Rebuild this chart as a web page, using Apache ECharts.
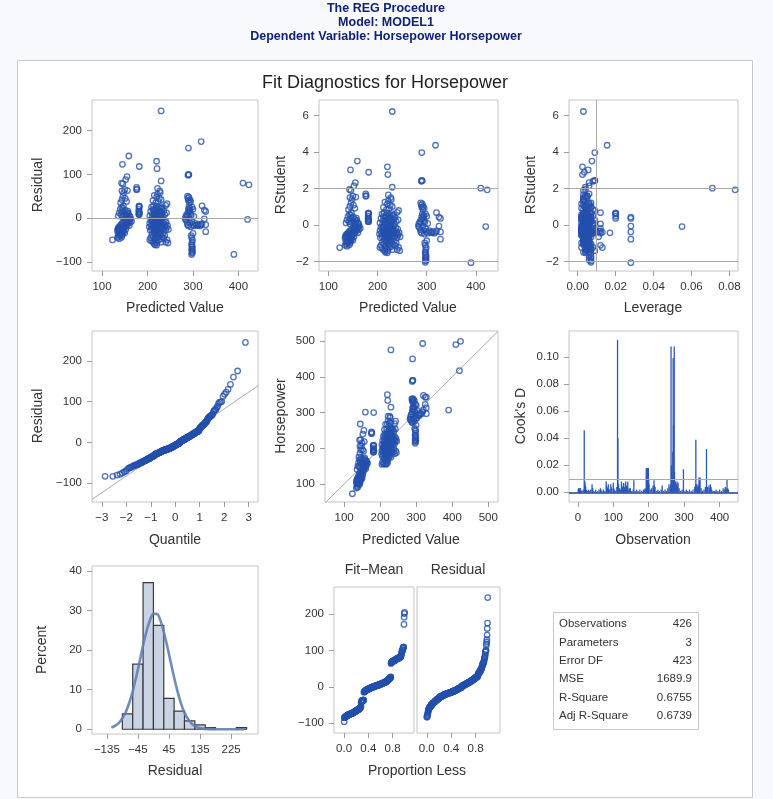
<!DOCTYPE html>
<html><head><meta charset="utf-8">
<script src="https://cdn.jsdelivr.net/npm/echarts@6/dist/echarts.min.js"></script>
<style>html,body{margin:0;padding:0;background:#f8f9fd;}#c{width:773px;height:799px;}</style>
</head><body><div id="c"></div>
<script>
// ---------------- DATA ----------------
// Group A: predicted ~120-165
const predA = [123,134,136,138,140,141,143,137,139,142,145,147,135,144,146,150,
 134,135,136,137,138,139,140,141,142,143,144,145,146,147,148,149,150,151,152,153,154,155,156,157,158,159,160,161,162,163,165,148,152,
 136,138,140,142,143,144,145,146,147,148,150,151,153,154,155,156,158,160,162,157,
 141,144,146,148,151,154,
 143,146,150,152,156,144,
 155,145,159];
const residA = [-50,-45,-42,-47,-40,-35,-44,-38,-33,-31,-36,-32,-34,-40,-31,-34,
 -28,-25,-22,-27,-20,-24,-18,-26,-15,-21,-12,-25,-19,-10,-22,-16,-8,-20,-12,-5,-18,-9,-14,-3,-11,-6,-17,-4,-10,-2,-7,-28,-26,
 5,12,20,8,25,3,15,22,28,6,10,18,2,13,4,8,11,5,3,16,
 35,42,50,58,45,38,
 80,78,65,88,63,62,
 95,123,142];
const levA = [0.013,0.012,0.007,0.006,0.005,0.004,0.006,0.005,0.004,0.003,0.005,0.004,0.006,0.003,0.005,0.004,
 0.006,0.005,0.004,0.007,0.003,0.005,0.004,0.006,0.003,0.005,0.004,0.003,0.006,0.005,0.004,0.003,0.005,0.004,0.006,0.003,0.005,0.004,0.007,0.003,0.005,0.004,0.006,0.003,0.008,0.004,0.012,0.005,0.004,
 0.005,0.004,0.006,0.003,0.005,0.004,0.006,0.003,0.005,0.004,0.007,0.003,0.005,0.004,0.006,0.003,0.005,0.004,0.012,0.005,
 0.005,0.004,0.006,0.003,0.005,0.004,
 0.004,0.003,0.005,0.006,0.004,0.005,
 0.006,0.0055,0.0075];
// Group S: predicted ~175-182
const predS = [182,176,176,177,181,182,182,181,182,181,182,181,182,181];
const residS = [118,70,65,66,15,8,27,10,12,20,25,8,15,27];
const levS = [0.0035,0.006,0.004,0.005,0.02,0.006,0.02,0.005,0.007,0.02,0.02,0.005,0.006,0.02];
// Group B: predicted ~204-246
const predB = [220,216,
 205,207,209,210,212,213,214,215,216,217,218,219,221,222,223,224,225,226,228,229,230,232,234,236,238,240,243,245,
 204,205,206,207,208,209,210,211,212,213,214,215,216,217,218,219,220,221,222,223,224,225,226,227,228,229,230,231,232,233,234,235,236,237,238,239,240,241,242,244,246,
 211,215,218,220,222,224,226,228,230,217,219,221,223,225,227,
 205,207,209,210,211,212,213,214,215,216,217,218,219,220,221,222,223,224,225,226,227,228,229,230,231,232,234,236,238,240,242,233,
 212,215,218,220,222,224,226,228,230,243,
 222,230,227,221,220,230];
const residB = [-62,-61,
 -50,-45,-52,-38,-55,-42,-33,-58,-47,-36,-53,-40,-57,-44,-35,-50,-41,-32,-48,-38,-55,-43,-36,-46,-40,-55,-50,-57,
 -20,-12,-28,-5,-18,-25,-8,-15,-22,-3,-27,-10,-17,-24,-6,-13,-29,-2,-19,-9,-26,-14,-4,-21,-11,-28,-7,-16,-23,-1,-18,-12,-25,-6,-20,-15,-28,-9,-22,-17,-26,
 -4,-21,-27,-11,-16,-7,-23,-3,-19,-9,-20,-25,-14,-5,-18,
 5,15,25,2,10,20,28,8,18,3,12,22,6,27,14,4,19,9,24,1,16,11,26,7,21,13,3,17,8,29,12,23,
 40,52,35,48,55,38,45,58,42,33,
 68,85,62,113,130,245];
const levB = [0.004,0.003,
 0.005,0.004,0.006,0.003,0.004,0.005,0.003,0.004,0.006,0.003,0.004,0.002,0.005,0.003,0.004,0.002,0.003,0.005,0.004,0.003,0.005,0.004,0.003,0.006,0.005,0.007,0.008,0.009,
 0.006,0.005,0.004,0.005,0.003,0.004,0.003,0.004,0.002,0.003,0.003,0.002,0.004,0.003,0.002,0.003,0.004,0.002,0.003,0.002,0.003,0.002,0.004,0.003,0.002,0.003,0.004,0.003,0.002,0.004,0.003,0.005,0.004,0.003,0.006,0.004,0.005,0.007,0.006,0.008,0.011,
 0.003,0.002,0.004,0.003,0.002,0.003,0.004,0.002,0.003,0.002,0.003,0.004,0.002,0.003,0.002,
 0.006,0.005,0.004,0.005,0.004,0.003,0.004,0.003,0.002,0.003,0.002,0.003,0.002,0.003,0.002,0.003,0.002,0.003,0.002,0.003,0.002,0.003,0.003,0.004,0.003,0.004,0.004,0.005,0.006,0.007,0.009,0.004,
 0.004,0.003,0.003,0.002,0.003,0.002,0.003,0.003,0.004,0.009,
 0.003,0.004,0.003,0.0025,0.0025,0.003];
// Group C: predicted ~283-330
const predC = [297,298,298,299,297,298,299,298,297,
 296,328,298,299,297,300,
 283,285,287,288,290,292,294,295,298,300,302,305,308,310,312,315,318,320,325,328,
 284,286,288,289,290,291,292,293,294,295,296,298,300,302,320,325,328,
 288,289,290,291,292,293,295,
 290,291,289,290,318];
const residC = [-60,-63,-66,-70,-72,-75,-78,-80,-83,
 -40,-31,-55,-50,-45,-35,
 -2,-5,-10,-15,-18,-3,-12,-20,-8,-15,-18,-12,-16,-17,-14,-18,-16,-13,-2,-15,
 3,8,5,12,20,25,15,18,22,10,6,25,20,4,28,18,15,
 50,45,40,48,35,42,38,
 100,99,98,160,175];
const levC = [0.006,0.007,0.006,0.007,0.006,0.007,0.006,0.007,0.007,
 0.006,0.028,0.007,0.006,0.007,0.006,
 0.008,0.007,0.006,0.007,0.006,0.005,0.006,0.007,0.006,0.007,0.008,0.009,0.01,0.017,0.011,0.012,0.013,0.012,0.028,0.028,
 0.008,0.007,0.006,0.007,0.006,0.005,0.006,0.007,0.006,0.005,0.006,0.007,0.008,0.009,0.012,0.028,0.028,
 0.007,0.006,0.007,0.006,0.008,0.007,0.006,
 0.009,0.009,0.008,0.009,0.0155];
// Far high-predicted points
const predF = [390,410,420,423];
const residF = [-83,80,-3,76];
const levF = [0.028,0.071,0.055,0.083];

// Cook's D needles (observation, value)
const cookObs = [1,2,3,4,5,6,7,8,9,12,15,18,19,20,21,22,24,27,30,33,36,40,41,42,45,50,55,60,64,65,68,72,76,80,81,82,84,86,88,90,93,94,96,100,101,103,106,110,112,113,115,118,121,123,124,126,128,129,131,132,134,135,137,138,140,141,144,146,148,152,156,158,162,166,170,175,180,185,188,190,193,194,195,196,197,198,199,200,201,204,208,212,214,215,216,218,222,226,230,235,238,242,246,250,254,257,260,262,263,264,266,268,269,270,272,273,275,277,278,280,281,283,286,290,294,298,302,306,310,315,320,325,330,332,333,334,336,338,339,340,342,343,345,348,352,356,360,363,366,370,372,374,376,378,382,386,390,395,400,405,410,413,416,418,419,421,423,425];
const cookD = [0.002,0.003,0.003,0.002,0.002,0.003,0.003,0.002,0.001,0.001,0.002,0.046,0.006,0.008,0.005,0.004,0.002,0.001,0.002,0.001,0.002,0.006,0.003,0.003,0.001,0.002,0.001,0.002,0.003,0.002,0.001,0.002,0.001,0.008,0.005,0.004,0.003,0.006,0.002,0.002,0.006,0.004,0.003,0.007,0.003,0.002,0.001,0.004,0.113,0.040,0.006,0.003,0.002,0.008,0.004,0.004,0.005,0.007,0.004,0.003,0.006,0.008,0.004,0.005,0.003,0.008,0.002,0.003,0.003,0.001,0.002,0.009,0.001,0.002,0.001,0.002,0.001,0.002,0.002,0.003,0.018,0.012,0.018,0.014,0.018,0.015,0.018,0.01,0.006,0.002,0.003,0.005,0.004,0.009,0.005,0.004,0.001,0.002,0.001,0.002,0.005,0.001,0.002,0.001,0.003,0.006,0.004,0.006,0.108,0.02,0.012,0.03,0.0995,0.05,0.108,0.015,0.008,0.005,0.006,0.008,0.004,0.007,0.003,0.001,0.002,0.017,0.001,0.002,0.001,0.002,0.001,0.002,0.004,0.005,0.039,0.006,0.006,0.004,0.004,0.005,0.011,0.008,0.011,0.003,0.001,0.002,0.004,0.032,0.004,0.005,0.003,0.006,0.004,0.002,0.001,0.001,0.002,0.001,0.002,0.001,0.003,0.002,0.004,0.002,0.003,0.0096,0.003,0.002];

// Histogram of residuals (bin start, percent), bin width 30
const histBinStart = [-90,-60,-30,0,30,60,90,120,150,240];
const histPercent = [3.9,16.5,37.1,26.3,7.8,4.6,2.1,1.1,0.4,0.4];
const histBinWidth = 30;
// Normal density curve
const normalX = [-122,-110,-100,-90,-80,-70,-60,-50,-40,-30,-20,-10,0,10,20,30,40,50,60,70,80,90,100,110,120,135,150,180,220,262];
const normalY = [0.4,0.9,1.6,2.8,4.4,6.7,9.6,13.2,17.1,21.2,24.8,27.6,29.2,29.2,27.6,24.6,21.0,17.0,13.1,9.5,6.5,4.2,2.6,1.5,0.8,0.3,0.1,0.0,0.0,0.0];

// Reference-line values
const qqLineX = [-3.4,3.4];
const qqLineY = [-139.7,139.7];
const diagLine = [47,528];
const leverageCutoff = 0.0141;
const cookCutoff = 0.0094;

// Fit statistics table
const statNames = ['Observations','Parameters','Error DF','MSE','R-Square','Adj R-Square'];
const statValues = ['426','3','423','1689.9','0.6755','0.6739'];
const nObs = 426, nParm = 3, mse = 1689.9;

// Tick labels
const ticksP1x = [100,200,300,400], ticksP1y = [-100,0,100,200];
const ticksRS = [-2,0,2,4,6];
const ticksLev = [0,0.02,0.04,0.06,0.08];
const ticksQ = [-3,-2,-1,0,1,2,3];
const ticksHP = [100,200,300,400,500];
const ticksObs = [0,100,200,300,400];
const ticksCook = [0,0.02,0.04,0.06,0.08,0.10];
const ticksHistX = [-135,-45,45,135,225];
const ticksPct = [0,10,20,30,40];
const ticksProp = [0,0.4,0.8];

// ---------------- DERIVED ----------------
const predicted = [...predA,...predS,...predB,...predC,...predF];
const residual = [...residA,...residS,...residB,...residC,...residF];
const leverage = [...levA,...levS,...levB,...levC,...levF];
const s = Math.sqrt(mse);
const rstudent = residual.map((e,i)=>{const r=e/(s*Math.sqrt(1-leverage[i]));return r*Math.sqrt((nObs-nParm-1)/(nObs-nParm-r*r));});
const horsepower = predicted.map((p,i)=>p+residual[i]);
function invNorm(p){
 const a=[-39.69683028665376,220.9460984245205,-275.9285104469687,138.357751867269,-30.66479806614716,2.506628277459239];
 const b=[-54.47609879822406,161.5858368580409,-155.6989798598866,66.80131188771972,-13.28068155288572];
 const c=[-0.007784894002430293,-0.3223964580411365,-2.400758277161838,-2.549732539343734,4.374664141464968,2.938163982698783];
 const d=[0.007784695709041462,0.3224671290700398,2.445134137142996,3.754408661907416];
 const pl=0.02425;let q,r;
 if(p<pl){q=Math.sqrt(-2*Math.log(p));return (((((c[0]*q+c[1])*q+c[2])*q+c[3])*q+c[4])*q+c[5])/((((d[0]*q+d[1])*q+d[2])*q+d[3])*q+1);}
 if(p>1-pl){q=Math.sqrt(-2*Math.log(1-p));return -(((((c[0]*q+c[1])*q+c[2])*q+c[3])*q+c[4])*q+c[5])/((((d[0]*q+d[1])*q+d[2])*q+d[3])*q+1);}
 q=p-0.5;r=q*q;return (((((a[0]*r+a[1])*r+a[2])*r+a[3])*r+a[4])*r+a[5])*q/(((((b[0]*r+b[1])*r+b[2])*r+b[3])*r+b[4])*r+1);
}
const N = residual.length;
const sortedRes = residual.slice().sort((x,y)=>x-y);
const qqData = sortedRes.map((v,i)=>[invNorm((i+1-0.375)/(N+0.25)),v]);
const meanHP = horsepower.reduce((a,b)=>a+b,0)/N;
const sortedFit = predicted.map(p=>p-meanHP).sort((x,y)=>x-y);
const fitSpread = sortedFit.map((v,i)=>[(i+0.5)/N,v]);
const resSpread = sortedRes.map((v,i)=>[(i+0.5)/N,v]);

// ---------------- CHART ----------------
const FONT = '"Liberation Sans", Arial, sans-serif';
const BLUE = '#2450ad';
const GRAYLINE = '#a9a9a9';
const FRAME = '#c4c4c4';
const minus = t => String(t).replace('-', '\u2212');
const fmt0 = v => minus(v);
const fmt2 = v => minus(v.toFixed(2));
const fmt1 = v => minus(v.toFixed(1));

const grids = [
 {left:92, top:100, width:166, height:171},
 {left:319, top:100, width:179, height:171},
 {left:569, top:100, width:169, height:171},
 {left:92, top:331, width:166, height:171},
 {left:325, top:331, width:173, height:171},
 {left:569, top:331, width:169, height:171},
 {left:92, top:566, width:166, height:168},
 {left:334, top:587, width:80, height:146},
 {left:417, top:587, width:83, height:146}
].map(g=>Object.assign({show:true, borderColor:FRAME, borderWidth:1, backgroundColor:'transparent'}, g));

function ax(gi, min, max, ticks, fmt, showLabels){
 return {type:'value', gridIndex:gi, min:min, max:max,
  axisLine:{show:false, onZero:false}, splitLine:{show:false},
  axisTick:{show:showLabels!==false, length:5, lineStyle:{color:'#9c9c9c'}, customValues:ticks},
  axisLabel:{show:showLabels!==false, customValues:ticks, formatter:fmt, fontSize:11.5, color:'#333', margin:10, fontFamily:FONT}};
}
const xAxes = [
 ax(0,78,443,ticksP1x,fmt0),
 ax(1,81,445,ticksP1x,fmt0),
 ax(2,-0.0046,0.0845,ticksLev,fmt2),
 ax(3,-3.4,3.38,ticksQ,fmt0),
 ax(4,47,527,ticksHP,fmt0),
 ax(5,-25,452,ticksObs,fmt0),
 ax(6,-178,303,ticksHistX,fmt0),
 ax(7,-0.166,1.154,ticksProp,fmt1),
 ax(8,-0.16,1.2,ticksProp,fmt1)
];
const yAxes = [
 ax(0,-121,270,ticksP1y,fmt0),
 ax(1,-2.51,6.86,ticksRS,fmt0),
 ax(2,-2.51,6.86,ticksRS,fmt0),
 ax(3,-146,273,ticksP1y,fmt0),
 ax(4,50,528,ticksHP,fmt0),
 ax(5,-0.0072,0.1195,ticksCook,fmt2),
 ax(6,-1.2,41.3,ticksPct,fmt0),
 ax(7,-127,274,ticksP1y,fmt0),
 ax(8,-127,274,ticksP1y,fmt0,false)
];
const markerStyle = {color:'rgba(0,0,0,0)', borderColor:BLUE, borderWidth:1.3};
function scatter(i, data){
 return {type:'scatter', xAxisIndex:i, yAxisIndex:i, data:data, symbol:'circle', symbolSize:5.5, itemStyle:markerStyle, silent:true, z:3};
}
function refLines(list, color, width){
 return {silent:true, symbol:'none', animation:false, label:{show:false}, lineStyle:{color:color||GRAYLINE, type:'solid', width:width||1}, data:list};
}
const s0 = scatter(0, predicted.map((p,i)=>[p,residual[i]])); s0.markLine = refLines([{yAxis:0}]);
const s1 = scatter(1, predicted.map((p,i)=>[p,rstudent[i]])); s1.markLine = refLines([{yAxis:-2},{yAxis:2}]);
const s2 = scatter(2, leverage.map((h,i)=>[h,rstudent[i]])); s2.markLine = refLines([{yAxis:-2},{yAxis:2},{xAxis:leverageCutoff}]);
const s3 = {type:'line', xAxisIndex:3, yAxisIndex:3, data:qqLineX.map((x,i)=>[x,qqLineY[i]]), symbol:'none', lineStyle:{color:GRAYLINE,width:1}, silent:true, z:2};
const s4 = scatter(3, qqData);
const s5 = {type:'line', xAxisIndex:4, yAxisIndex:4, data:diagLine.map(v=>[v,v]), symbol:'none', lineStyle:{color:GRAYLINE,width:1}, silent:true, z:2};
const s6 = scatter(4, predicted.map((p,i)=>[p,horsepower[i]]));
const s7 = {type:'custom', xAxisIndex:5, yAxisIndex:5, data:cookObs.map((o,i)=>[o,cookD[i]]), silent:true,
 renderItem:(params, api)=>{const p0=api.coord([api.value(0),0]);const p1=api.coord([api.value(0),api.value(1)]);
  return {type:'line', shape:{x1:p0[0],y1:p0[1],x2:p1[0],y2:p1[1]}, style:{stroke:'#2c58b8', lineWidth:1.3}};},
 markLine: refLines([{yAxis:cookCutoff}]), z:3};
const s7b = {type:'line', xAxisIndex:5, yAxisIndex:5, data:[], markLine: refLines([{yAxis:0}], '#1c3f9a', 1.6), z:4};
const s8 = {type:'custom', xAxisIndex:6, yAxisIndex:6, data:histBinStart.map((b,i)=>[b,histPercent[i]]), silent:true,
 renderItem:(params, api)=>{const a=api.coord([api.value(0),api.value(1)]);const b=api.coord([api.value(0)+histBinWidth,0]);
  return {type:'rect', shape:{x:a[0],y:a[1],width:b[0]-a[0],height:b[1]-a[1]}, style:{fill:'#c9d3e4', stroke:'#3a3a3a', lineWidth:1.2}};}, z:2};
const s9 = {type:'line', xAxisIndex:6, yAxisIndex:6, data:normalX.map((x,i)=>[x,normalY[i]]), symbol:'none', smooth:0.3,
 lineStyle:{color:'#5f7fb4', width:2.6, opacity:0.9}, silent:true, z:3};
const s10 = scatter(7, fitSpread);
const s11 = scatter(8, resSpread);

function txt(x,y,text,opts){
 return Object.assign({type:'text', x:x, y:y, silent:true, style:Object.assign({text:text, fill:'#333', fontSize:14, fontFamily:FONT, align:'center', verticalAlign:'middle'}, opts||{})});
}
function vtxt(x,y,text){ const t = txt(x,y,text); t.rotation = Math.PI/2; return t; }
const graphic = [
 {type:'rect', z:-10, silent:true, shape:{x:17.5,y:60.5,width:735,height:737}, style:{fill:'#ffffff', stroke:'#c8c8c8', lineWidth:1}},
 txt(386,9,'The REG Procedure',{fill:'#112277', fontWeight:'bold', fontSize:12.5}),
 txt(386,23,'Model: MODEL1',{fill:'#112277', fontWeight:'bold', fontSize:12.5}),
 txt(386,37,'Dependent Variable: Horsepower Horsepower',{fill:'#112277', fontWeight:'bold', fontSize:12.5}),
 txt(385,83,'Fit Diagnostics for Horsepower',{fill:'#222', fontSize:18}),
 vtxt(38,185,'Residual'), txt(175,308,'Predicted Value'),
 vtxt(281,185,'RStudent'), txt(408,308,'Predicted Value'),
 vtxt(531,185,'RStudent'), txt(653,308,'Leverage'),
 vtxt(38,416,'Residual'), txt(175,540,'Quantile'),
 vtxt(281,416,'Horsepower'), txt(411,540,'Predicted Value'),
 vtxt(521,416,'Cook\'s D'), txt(653,540,'Observation'),
 vtxt(42,650,'Percent'), txt(175,771,'Residual'),
 txt(374,570,'Fit\u2212Mean'), txt(458,570,'Residual'),
 txt(417,771,'Proportion Less'),
 {type:'rect', silent:true, shape:{x:553.5,y:612.5,width:145,height:117}, style:{fill:'#fff', stroke:'#c8c8c8', lineWidth:1}}
];
statNames.forEach((n,i)=>{
 const y = 624 + i*18.4;
 graphic.push(txt(559,y,n,{align:'left', fontSize:11.5}));
 graphic.push(txt(692,y,statValues[i],{align:'right', fontSize:11.5}));
});

const chart = echarts.init(document.getElementById('c'), null, {renderer:'canvas'});
chart.setOption({
 animation:false,
 backgroundColor:'#f8f9fd',
 grid:grids, xAxis:xAxes, yAxis:yAxes,
 series:[s0,s1,s2,s3,s4,s5,s6,s7,s7b,s8,s9,s10,s11],
 graphic:graphic
});
</script></body></html>
